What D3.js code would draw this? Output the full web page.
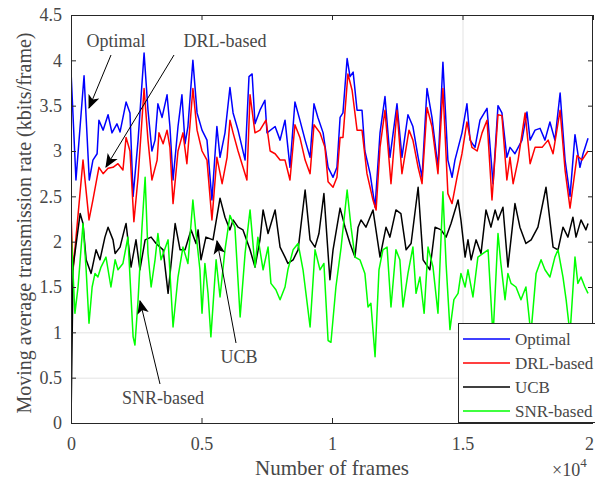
<!DOCTYPE html>
<html lang="en">
<head>
<meta charset="UTF-8">
<title>Moving average transmission rate</title>
<style>
  body { margin: 0; background: #fff; }
  text { font-family: "Liberation Serif", "DejaVu Serif", serif; }
</style>
</head>
<body>
<script src="https://d3js.org/d3.v7.min.js"></script>
<script>
// [frame, kbits/frame]
const optimalData = [[0,0],[10,3.82],[190,2.68],[500,3.83],[700,2.68],[840,2.9],[1000,2.97],[1070,3.34],[1230,3.23],[1420,3.4],[1570,3.2],[1760,3.3],[1880,3.21],[2110,3.54],[2260,3.42],[2380,2.5],[2570,3.12],[2800,4.08],[2950,3.45],[3100,3.0],[3220,3.12],[3330,3.52],[3490,3.37],[3680,3.62],[3790,3.27],[3910,2.68],[4100,3.27],[4250,3.62],[4370,3.08],[4480,3.27],[4670,4.0],[4830,3.42],[5020,3.23],[5210,3.12],[5400,2.46],[5590,3.27],[5710,2.93],[5900,3.2],[6090,3.7],[6210,3.42],[6400,3.23],[6670,2.9],[6820,3.82],[6940,3.85],[7050,3.3],[7240,3.45],[7430,3.56],[7510,3.2],[7820,3.27],[8010,3.12],[8200,3.34],[8390,2.82],[8580,3.54],[8770,3.34],[8970,3.12],[9160,2.93],[9310,3.52],[9460,3.37],[9660,3.2],[9850,2.82],[10040,2.71],[10190,2.82],[10310,3.37],[10420,3.42],[10580,4.02],[10690,3.82],[10810,3.87],[10960,3.45],[11150,3.45],[11260,3.0],[11460,2.75],[11650,2.38],[11840,3.2],[12030,3.6],[12220,2.93],[12490,3.52],[12680,2.93],[12910,3.4],[13100,3.27],[13300,2.93],[13450,2.71],[13640,3.69],[13830,3.37],[14060,2.82],[14250,3.98],[14440,2.9],[14600,2.71],[14710,2.9],[14980,3.2],[15170,3.52],[15290,3.12],[15480,3.04],[15670,3.34],[15940,3.47],[16170,2.64],[16360,3.5],[16510,3.42],[16700,2.93],[16820,3.04],[17010,2.97],[17280,3.12],[17470,3.43],[17590,3.12],[17780,3.23],[17970,3.25],[18160,3.12],[18350,3.32],[18540,3.12],[18740,3.64],[18930,2.9],[19120,2.5],[19310,3.18],[19500,2.82],[19620,2.97],[19810,3.14]];

const drlData = [[0,0],[10,2.24],[80,1.69],[460,2.9],[690,2.24],[840,2.46],[1070,2.82],[1230,2.75],[1420,2.81],[1610,2.82],[1800,2.86],[1990,2.79],[2110,3.15],[2260,3.0],[2410,2.22],[2570,2.71],[2800,3.69],[2950,3.12],[3100,2.68],[3300,2.9],[3370,3.2],[3530,3.08],[3680,3.23],[3790,3.04],[3910,2.42],[4100,3.0],[4290,3.2],[4440,2.86],[4670,3.69],[4830,3.23],[5020,3.0],[5210,2.9],[5400,2.24],[5590,2.93],[5790,2.64],[5980,2.93],[6090,3.34],[6210,3.2],[6400,3.0],[6740,2.68],[6860,3.62],[7050,3.2],[7240,3.23],[7470,3.34],[7630,3.0],[7820,2.97],[8010,2.9],[8200,2.9],[8390,2.68],[8580,3.29],[8770,3.15],[8970,2.9],[9160,2.75],[9310,3.29],[9540,3.2],[9730,3.04],[9850,2.66],[10040,2.6],[10190,2.71],[10310,3.15],[10420,3.15],[10610,3.85],[10770,3.67],[10960,3.23],[11150,3.23],[11340,2.75],[11570,2.46],[11690,2.35],[11840,3.04],[12030,3.45],[12260,2.64],[12490,3.45],[12680,2.75],[12950,3.23],[13100,3.12],[13300,2.82],[13450,2.64],[13640,3.48],[13830,3.27],[14060,2.75],[14250,3.69],[14440,2.53],[14600,2.42],[14790,2.71],[14980,2.97],[15170,3.32],[15360,3.04],[15560,3.0],[15750,3.2],[15940,3.34],[16130,2.46],[16360,3.4],[16510,3.39],[16700,2.68],[16820,2.93],[16940,2.64],[17130,2.9],[17400,3.42],[17590,2.86],[17780,3.04],[18050,3.04],[18280,3.12],[18470,2.97],[18740,3.45],[18930,2.79],[19120,2.37],[19390,2.95],[19580,2.9],[19810,3.0]];

const ucbData = [[0,0],[80,1.72],[350,2.31],[460,2.2],[580,1.8],[770,1.65],[960,1.91],[1110,1.8],[1300,2.05],[1420,2.16],[1610,2.02],[1690,1.87],[1880,1.94],[2070,2.16],[2110,2.2],[2300,1.72],[2490,2.02],[2640,1.69],[2840,2.02],[3070,2.05],[3260,1.98],[3530,1.91],[3720,1.43],[3990,2.2],[4180,1.91],[4370,1.91],[4600,2.13],[4790,1.98],[4870,2.13],[4980,1.8],[5170,2.05],[5440,2.02],[5710,2.48],[5900,2.27],[6090,2.13],[6210,2.24],[6400,2.16],[6590,2.13],[6860,1.91],[7050,1.72],[7240,2.02],[7360,2.35],[7550,2.09],[7820,2.35],[8010,1.94],[8200,1.83],[8310,1.76],[8510,1.8],[8700,1.91],[8970,2.57],[9160,2.02],[9350,1.94],[9500,2.09],[9690,2.53],[9920,1.58],[10040,1.91],[10310,2.37],[10500,2.16],[10690,1.98],[10880,1.83],[11000,2.16],[11110,2.24],[11300,2.16],[11570,2.35],[11840,1.83],[12070,2.16],[12220,2.05],[12450,2.35],[12640,2.31],[12840,1.91],[13030,1.98],[13300,2.6],[13490,1.8],[13750,1.69],[13950,2.16],[14180,2.13],[14370,2.05],[14560,2.2],[14830,2.46],[14940,2.24],[15100,1.83],[15210,2.02],[15330,1.8],[15520,2.02],[15710,1.87],[15900,2.35],[16090,2.16],[16250,2.35],[16360,2.24],[16550,2.38],[16740,1.72],[17010,2.42],[17200,2.16],[17430,1.98],[17630,2.02],[17890,2.16],[18200,2.6],[18470,1.94],[18660,1.91],[18850,2.16],[19040,2.05],[19230,2.27],[19350,2.05],[19540,2.24],[19730,2.13],[19810,2.2]];

const snrData = [[0,0],[10,2.07],[150,1.21],[270,1.5],[460,2.2],[580,1.69],[690,1.1],[810,1.5],[920,1.65],[1030,1.61],[1150,1.72],[1340,1.83],[1530,1.5],[1690,1.8],[1800,1.69],[1990,1.76],[2180,2.05],[2380,0.95],[2450,0.86],[2570,1.36],[2720,2.16],[2840,2.71],[2950,1.87],[3070,1.5],[3220,1.8],[3330,2.09],[3450,1.8],[3720,2.02],[3910,1.06],[4100,1.61],[4290,1.94],[4480,1.76],[4670,2.46],[4790,2.09],[4940,1.69],[5020,1.21],[5130,1.76],[5250,1.43],[5360,0.95],[5560,1.8],[5710,1.39],[5900,1.91],[6090,2.29],[6280,2.16],[6480,1.17],[6670,1.87],[6860,2.35],[7050,1.72],[7160,2.05],[7360,1.69],[7550,1.94],[7660,1.54],[7850,1.47],[8010,1.36],[8200,1.5],[8310,1.69],[8510,1.91],[8700,1.98],[8890,1.69],[9160,1.06],[9350,1.91],[9540,1.69],[9690,1.76],[9850,0.91],[9960,0.89],[10150,1.5],[10350,1.94],[10580,2.57],[10730,2.16],[10880,1.83],[11070,1.8],[11260,1.65],[11380,1.28],[11490,1.32],[11650,0.73],[11800,1.69],[11950,1.91],[12110,1.94],[12260,1.28],[12450,1.91],[12600,1.8],[12720,1.28],[12910,1.65],[13100,1.94],[13220,1.43],[13370,1.61],[13530,1.21],[13680,1.94],[13870,1.72],[14060,1.21],[14250,2.55],[14370,1.76],[14520,1.03],[14670,1.36],[14830,1.43],[14940,1.65],[15100,1.5],[15210,1.69],[15400,1.39],[15590,1.83],[15790,1.87],[15980,1.91],[16170,0.95],[16360,2.09],[16470,1.76],[16630,1.36],[16740,1.65],[16860,1.54],[17050,1.5],[17240,1.36],[17430,1.5],[17620,0.98],[17820,1.65],[18010,1.8],[18160,1.69],[18350,1.61],[18540,1.83],[18660,1.91],[18850,1.61],[18970,1.36],[19120,0.98],[19310,1.83],[19420,1.54],[19540,1.61],[19690,1.5],[19810,1.43]];

const seriesNames = ["Optimal", "DRL-based", "UCB", "SNR-based"];
const seriesColors = ["#0000ff", "#ff0000", "#000000", "#00ff00"];
const xTicks = [0, 5000, 10000, 15000, 20000];
const yTicks = [0, 0.5, 1, 1.5, 2, 2.5, 3, 3.5, 4, 4.5];

const W = 595, H = 480;
const L = 71, R = 593, T = 15, B = 423;
const axisCol = "#262626", textCol = "#474747";

const svg = d3.select("body").append("svg")
    .attr("width", W).attr("height", H);

const x = d3.scaleLinear().domain([0, 20000]).range([L, R]);
const y = d3.scaleLinear().domain([0, 4.5]).range([B, T]);

svg.append("defs").append("clipPath").attr("id", "plot")
    .append("rect").attr("x", L).attr("y", T).attr("width", R - L).attr("height", B - T);

// the few grid lines that show in the picture
const grid = svg.append("g").attr("stroke", "#e3e3e3").attr("stroke-width", 1);
[0.5, 1].forEach(v => grid.append("line")
    .attr("x1", L).attr("x2", R).attr("y1", y(v) + 0.5).attr("y2", y(v) + 0.5));
grid.append("line").attr("x1", x(15000) + 0.5).attr("x2", x(15000) + 0.5).attr("y1", T).attr("y2", B);

const line = d3.line().x(d => x(d[0])).y(d => y(d[1]));
const allData = [optimalData, drlData, ucbData, snrData];
svg.append("g").attr("clip-path", "url(#plot)")
    .selectAll("path").data(allData).enter().append("path")
    .attr("d", line)
    .attr("fill", "none")
    .attr("stroke", (d, i) => seriesColors[i])
    .attr("stroke-width", 1.5)
    .attr("stroke-linejoin", "round");

// axes, ticks pointing inwards
const styleAxis = g => {
    g.select(".domain").remove();
    g.selectAll("line").attr("stroke", axisCol);
    g.selectAll("text").attr("fill", textCol).style("font-size", "18px")
        .style("font-family", '"Liberation Serif", serif');
};
svg.append("g").attr("transform", `translate(0,${B})`)
    .call(d3.axisBottom(x).tickValues(xTicks).tickFormat(d => d / 1e4)
        .tickSizeInner(-5).tickSizeOuter(0).tickPadding(14))
    .call(styleAxis)
    .call(g => g.selectAll("text").filter(d => d === 20000).attr("dx", -4));
svg.append("g").attr("transform", `translate(${L},0)`)
    .call(d3.axisLeft(y).tickValues(yTicks).tickFormat(d => d)
        .tickSizeInner(-5).tickSizeOuter(0).tickPadding(9))
    .call(styleAxis);
svg.append("g").attr("transform", `translate(0,${T})`)
    .call(d3.axisTop(x).tickValues(xTicks).tickFormat("").tickSizeInner(-5).tickSizeOuter(0))
    .call(styleAxis);
svg.append("g").attr("transform", `translate(${R},0)`)
    .call(d3.axisRight(y).tickValues(yTicks).tickFormat("").tickSizeInner(-5).tickSizeOuter(0))
    .call(styleAxis);
svg.append("rect").attr("x", L + 0.5).attr("y", T + 0.5)
    .attr("width", R - L - 1).attr("height", B - T)
    .attr("fill", "none").attr("stroke", axisCol).attr("stroke-width", 1);

// labels
svg.append("text").attr("x", (L + R) / 2).attr("y", 475).attr("text-anchor", "middle")
    .attr("fill", textCol).style("font-size", "21px").text("Number of frames");
svg.append("text").attr("transform", `translate(31,${(T + B) / 2 + 4}) rotate(-90)`)
    .attr("text-anchor", "middle").attr("fill", textCol).style("font-size", "20px")
    .text("Moving average transmission rate (kbits/frame)");
const mult = svg.append("text").attr("x", 552).attr("y", 476).attr("fill", textCol).style("font-size", "18px");
mult.append("tspan").text("×10");
mult.append("tspan").attr("dy", -9).style("font-size", "13px").text("4");

// annotation arrows
svg.append("defs").append("marker").attr("id", "head")
    .attr("viewBox", "0 0 12 10").attr("refX", 11).attr("refY", 5)
    .attr("markerWidth", 14).attr("markerHeight", 12).attr("markerUnits", "userSpaceOnUse")
    .attr("orient", "auto")
    .append("path").attr("d", "M0,0 L12,5 L0,10 L3,5 Z").attr("fill", "#000");

const notes = [
    { text: "Optimal", tx: 116, ty: 47, from: [111, 55], to: [89, 108] },
    { text: "DRL-based", tx: 225, ty: 47, from: [174, 55], to: [106, 167] },
    { text: "UCB", tx: 239, ty: 363, from: [236, 343], to: [217, 241] },
    { text: "SNR-based", tx: 163, ty: 404, from: [160, 384], to: [140, 301] }
];
notes.forEach(n => {
    svg.append("line").attr("x1", n.from[0]).attr("y1", n.from[1])
        .attr("x2", n.to[0]).attr("y2", n.to[1])
        .attr("stroke", "#000").attr("stroke-width", 1).attr("marker-end", "url(#head)");
    svg.append("text").attr("x", n.tx).attr("y", n.ty).attr("text-anchor", "middle")
        .attr("fill", textCol).style("font-size", "18px").text(n.text);
});

// legend
const leg = svg.append("g");
leg.append("rect").attr("x", 458.5).attr("y", 323.5).attr("width", 145).attr("height", 99)
    .attr("fill", "#fff").attr("stroke", axisCol).attr("stroke-width", 1);
seriesNames.forEach((name, i) => {
    const ly = 339 + i * 24;
    leg.append("line").attr("x1", 463).attr("x2", 510).attr("y1", ly).attr("y2", ly)
        .attr("stroke", seriesColors[i]).attr("stroke-width", 1.5);
    leg.append("text").attr("x", 515).attr("y", ly + 6).attr("fill", textCol)
        .style("font-size", "17px").text(name);
});
</script>
</body>
</html>
